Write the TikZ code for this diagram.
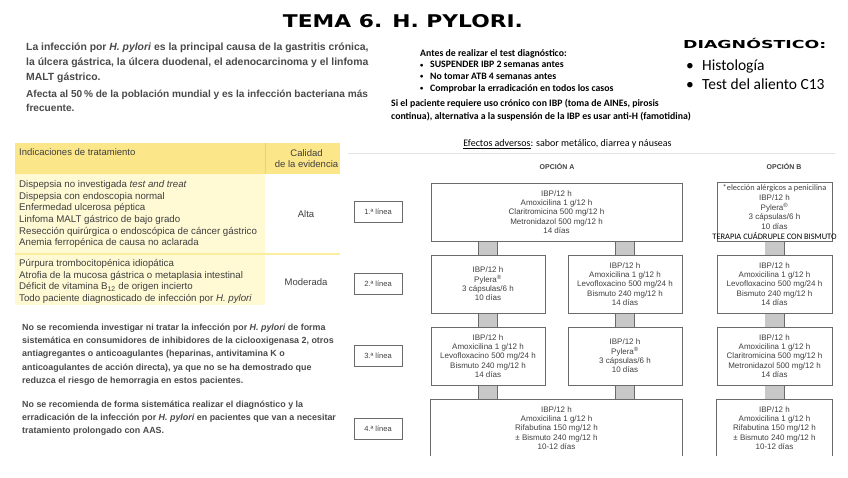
\documentclass[tikz,border=0pt]{standalone}
\usepackage{fontspec}
\setmainfont{Liberation Sans}
\newfontfamily\calfont{Carlito}
\newfontfamily\widefont{DejaVu Sans}
\usetikzlibrary{calc,backgrounds}
\definecolor{txtgray}{HTML}{4A4A4A}
\definecolor{tblgray}{HTML}{3E3E3E}
\definecolor{boxtxt}{HTML}{404040}
\definecolor{boxline}{HTML}{6A6A6A}
\definecolor{connfill}{HTML}{C8C8C8}
\definecolor{hdryellow}{HTML}{FCE68A}
\definecolor{paleyellow}{HTML}{FFF9D4}
\definecolor{sepyellow}{HTML}{FBEE9E}
\definecolor{rulegray}{HTML}{E2E2E2}
\newcommand{\smbul}{\makebox[10pt][l]{\raisebox{0.5pt}{\fontsize{6.5}{6.5}\selectfont•}}}
\tikzset{
  boxnode/.style={draw=boxline, line width=0.8pt, fill=white, align=center, text=boxtxt,
    font=\fontsize{8}{9.4}\selectfont, inner sep=0pt},
  openbox/.style={boxnode, draw=none},
  edgeline/.style={draw=boxline, line width=0.8pt},
  lblbox/.style={draw=boxline, line width=0.8pt, fill=white, text=boxtxt,
    font=\fontsize{7.5}{8}\selectfont, minimum width=48pt, minimum height=21pt, inner sep=0pt},
  conn/.style={draw=boxline, line width=0.6pt, double=connfill, double distance=18.8pt},
  para/.style={anchor=north west, align=left, inner sep=0pt},
}
\begin{document}
\begin{tikzpicture}[x=1pt,y=-1pt]
\useasboundingbox (0,0) rectangle (848,477);

% Title
\node[inner sep=0pt] (title) at (403,21.5) {\resizebox{240pt}{13pt}{\widefont\bfseries TEMA 6. H. PYLORI.}};

% Intro paragraphs
\node[para, text=txtgray, font=\fontsize{10.4}{15}\selectfont\bfseries] (intro) at (26,43)
 {La infección por \textit{H. pylori} es la principal causa de la gastritis crónica,\\
  la úlcera gástrica, la úlcera duodenal, el adenocarcinoma y el linfoma\\
  MALT gástrico.};
\node[para, text=txtgray, font=\fontsize{10.1}{14.5}\selectfont\bfseries] (afecta) at (26,89.5)
 {Afecta al 50\,\% de la población mundial y es la infección bacteriana más\\
  frecuente.};

% Middle notes
\node[para, font=\calfont\bfseries\fontsize{9.8}{11.7}\selectfont] (antes) at (420,49)
 {Antes de realizar el test diagnóstico:\\
  \smbul SUSPENDER IBP 2 semanas antes\\
  \smbul No tomar ATB 4 semanas antes\\
  \smbul Comprobar la erradicación en todos los casos};
\node[para, font=\calfont\bfseries\fontsize{9.8}{13}\selectfont] (sipac) at (391,99)
 {Si el paciente requiere uso crónico con IBP (toma de AINEs, pirosis\\
  continua), alternativa a la suspensión de la IBP es usar anti-H (famotidina)};

% Diagnostico
\node[anchor=west, inner sep=0pt] (diag) at (683,43)
 {\resizebox{143pt}{\height}{\widefont\bfseries\fontsize{11}{11}\selectfont DIAGNÓSTICO:}};
\node[para, font=\calfont\fontsize{15.5}{19}\selectfont] (diaglist) at (686,60)
 {\makebox[16pt][l]{•}Histología\\
  \makebox[16pt][l]{•}Test del aliento C13};

% Table
\fill[hdryellow] (15,143) rectangle (340,174);
\draw[color=hdryellow!85!black!60!hdryellow, line width=0.5pt] (265,143) -- (265,174);
\fill[paleyellow] (15,174) rectangle (265,253);
\fill[sepyellow] (15,253) rectangle (340,254.6);
\fill[paleyellow] (15,254.6) rectangle (265,305);
\node[anchor=west, inner sep=0pt, text=tblgray, font=\fontsize{9.5}{11}\selectfont] (hind) at (19,152) {Indicaciones de tratamiento};
\node[align=center, inner sep=0pt, text=tblgray, font=\fontsize{9.5}{11}\selectfont] (hcal) at (306.5,158.5) {Calidad\\de la evidencia};
\node[para, text=tblgray, font=\fontsize{9.7}{11.6}\selectfont] (row1) at (19,180.5)
 {Dispepsia no investigada \textit{test and treat}\\
  Dispepsia con endoscopia normal\\
  Enfermedad ulcerosa péptica\\
  Linfoma MALT gástrico de bajo grado\\
  Resección quirúrgica o endoscópica de cáncer gástrico\\
  Anemia ferropénica de causa no aclarada};
\node[text=tblgray, font=\fontsize{9.5}{11}\selectfont] (alta) at (306,214) {Alta};
\node[para, text=tblgray, font=\fontsize{9.7}{11.5}\selectfont] (row2) at (19,259.5)
 {Púrpura trombocitopénica idiopática\\
  Atrofia de la mucosa gástrica o metaplasia intestinal\\
  Déficit de vitamina B\textsubscript{12} de origen incierto\\
  Todo paciente diagnosticado de infección por \textit{H. pylori}};
\node[text=tblgray, font=\fontsize{9.5}{11}\selectfont] (moder) at (306,282) {Moderada};

% Lower-left paragraphs
\node[para, text=txtgray, font=\fontsize{8.9}{13.3}\selectfont\bfseries] (nore1) at (22,323.5)
 {No se recomienda investigar ni tratar la infección por \textit{H. pylori} de forma\\
  sistemática en consumidores de inhibidores de la ciclooxigenasa 2, otros\\
  antiagregantes o anticoagulantes (heparinas, antivitamina K o\\
  anticoagulantes de acción directa), ya que no se ha demostrado que\\
  reduzca el riesgo de hemorragia en estos pacientes.};
\node[para, text=txtgray, font=\fontsize{8.9}{13.1}\selectfont\bfseries] (nore2) at (22,401)
 {No se recomienda de forma sistemática realizar el diagnóstico y la\\
  erradicación de la infección por \textit{H. pylori} en pacientes que van a necesitar\\
  tratamiento prolongado con AAS.};

% Flowchart header
\node[font=\calfont\fontsize{10}{10}\selectfont, inner sep=0pt] (efectos) at (567.5,144)
 {\underline{Efectos adversos}: sabor metálico, diarrea y náuseas};
\draw[rulegray, line width=1pt] (348,153.5) -- (835,153.5);
\node[font=\bfseries\fontsize{7}{7}\selectfont, text=boxtxt] (optA) at (557,166) {OPCIÓN A};
\node[font=\bfseries\fontsize{7}{7}\selectfont, text=boxtxt] (optB) at (784,166) {OPCIÓN B};

% Line labels
\node[lblbox] (l1) at (378,212) {1.ª línea};
\node[lblbox] (l2) at (378,284) {2.ª línea};
\node[lblbox] (l3) at (378,356) {3.ª línea};
\node[lblbox] (l4) at (378,429) {4.ª línea};

% Row 1
\node[boxnode, minimum width=251pt, minimum height=58pt] (r1A) at (556.5,212)
 {IBP/12 h\\Amoxicilina 1 g/12 h\\Claritromicina 500 mg/12 h\\Metronidazol 500 mg/12 h\\14 días};
\node[boxnode, minimum width=115pt, minimum height=59pt, font=\fontsize{8}{9.8}\selectfont] (r1B) at (774.5,212)
 {{\calfont\fontsize{8.3}{9.8}\selectfont *elección alérgicos a penicilina}\\IBP/12 h\\Pylera\textsuperscript{®}\\3 cápsulas/6 h\\10 días\\
  \makebox[0pt]{\calfont\fontsize{8.4}{9.8}\selectfont\color{black}TERAPIA CUÁDRUPLE CON BISMUTO}};

% Row 2
\node[boxnode, minimum width=114pt, minimum height=58pt] (r2A1) at (488,284)
 {IBP/12 h\\Pylera\textsuperscript{®}\\3 cápsulas/6 h\\10 días};
\node[boxnode, minimum width=114pt, minimum height=58pt] (r2A2) at (625,284)
 {IBP/12 h\\Amoxicilina 1 g/12 h\\Levofloxacino 500 mg/24 h\\Bismuto 240 mg/12 h\\14 días};
\node[boxnode, minimum width=115pt, minimum height=58pt] (r2B) at (774.5,284)
 {IBP/12 h\\Amoxicilina 1 g/12 h\\Levofloxacino 500 mg/24 h\\Bismuto 240 mg/12 h\\14 días};

% Row 3
\node[boxnode, minimum width=114pt, minimum height=58pt] (r3A1) at (488,356)
 {IBP/12 h\\Amoxicilina 1 g/12 h\\Levofloxacino 500 mg/24 h\\Bismuto 240 mg/12 h\\14 días};
\node[boxnode, minimum width=114pt, minimum height=58pt] (r3A2) at (625,356)
 {IBP/12 h\\Pylera\textsuperscript{®}\\3 cápsulas/6 h\\10 días};
\node[boxnode, minimum width=115pt, minimum height=58pt] (r3B) at (774.5,356)
 {IBP/12 h\\Amoxicilina 1 g/12 h\\Claritromicina 500 mg/12 h\\Metronidazol 500 mg/12 h\\14 días};

% Row 4 (open at the bottom)
\node[openbox, minimum width=251pt, minimum height=56pt] (r4A) at (556.5,428)
 {IBP/12 h\\Amoxicilina 1 g/12 h\\Rifabutina 150 mg/12 h\\± Bismuto 240 mg/12 h\\10-12 días};
\node[openbox, minimum width=115pt, minimum height=56pt] (r4B) at (774.5,428)
 {IBP/12 h\\Amoxicilina 1 g/12 h\\Rifabutina 150 mg/12 h\\± Bismuto 240 mg/12 h\\10-12 días};
\draw[edgeline] (r4A.south west) -- (r4A.north west) -- (r4A.north east) -- (r4A.south east);
\draw[edgeline] (r4B.south west) -- (r4B.north west) -- (r4B.north east) -- (r4B.south east);

% Connectors
\begin{pgfonlayer}{background}
\fill[white] (0,0) rectangle (848,477);
\draw[conn] (r2A1.north |- r1A.south) -- (r2A1.north);
\draw[conn] (r2A2.north |- r1A.south) -- (r2A2.north);
\draw[conn] (r2B.north |- r1B.south) -- (r2B.north);
\draw[conn] (r2A1.south) -- (r3A1.north);
\draw[conn] (r2A2.south) -- (r3A2.north);
\draw[conn] (r2B.south) -- (r3B.north);
\draw[conn] (r3A1.south) -- (r3A1.south |- r4A.north);
\draw[conn] (r3A2.south) -- (r3A2.south |- r4A.north);
\draw[conn] (r3B.south) -- (r3B.south |- r4B.north);
\end{pgfonlayer}
\end{tikzpicture}
\end{document}
